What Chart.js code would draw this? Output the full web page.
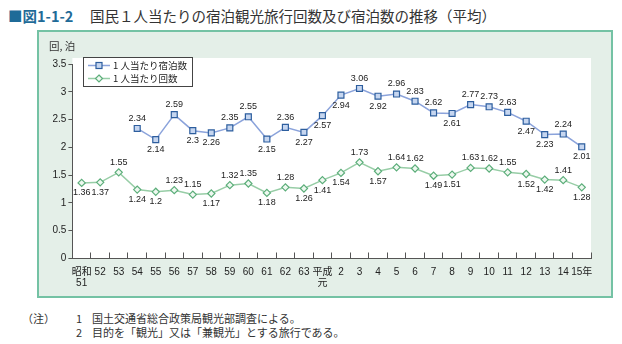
<!DOCTYPE html>
<html><head><meta charset="utf-8">
<script src="https://cdn.jsdelivr.net/npm/chart.js@4/dist/chart.umd.min.js"></script>
<style>
html,body{margin:0;padding:0;width:622px;height:344px;background:#fff;overflow:hidden;font-family:"Noto Sans CJK JP",sans-serif;color:#333;}
.abs{position:absolute;white-space:nowrap;}
#tnum{left:8px;top:5px;font-size:14.5px;line-height:22px;color:#1f6b98;font-weight:bold;}
#tmain{left:90px;top:5px;font-size:14.5px;line-height:22px;color:#333;}
#panel{position:absolute;left:37px;top:30px;width:572px;height:264px;background:#e4efe8;border:2px solid #74c2a4;}
#wrap{position:absolute;left:37px;top:30px;width:575px;height:267px;}
#ylab{left:49px;top:39px;font-size:10.5px;line-height:14px;color:#333;}
#legend{position:absolute;left:83px;top:57px;width:108px;height:27px;background:#fff;border:1px solid #444;font-size:9.5px;line-height:13px;color:#222;padding-top:1px;white-space:nowrap;}
#legend .row{display:flex;align-items:center;height:13px;}
#legend svg{margin-left:4px;margin-right:3px;flex:none;}
.note{font-size:11px;line-height:14px;color:#333;}
</style>
</head><body>
<div class="abs" id="tnum">■図1-1-2</div>
<div class="abs" id="tmain">国民１人当たりの宿泊観光旅行回数及び宿泊数の推移（平均）</div>
<div id="panel"></div>
<div id="wrap"><canvas id="c" width="575" height="267"></canvas></div>
<div class="abs" id="ylab">回, 泊</div>
<div id="legend">
  <div class="row"><svg width="22" height="9"><line x1="0" y1="4.5" x2="22" y2="4.5" stroke="#8ba3db" stroke-width="1.5"/><rect x="8" y="1.5" width="6" height="6" fill="#c6d6f0" stroke="#2d5e9e" stroke-width="1.2"/></svg><span>1 人当たり宿泊数</span></div>
  <div class="row"><svg width="22" height="9"><line x1="0" y1="4.5" x2="22" y2="4.5" stroke="#97cda6" stroke-width="1.5"/><polygon points="11,1 14.5,4.5 11,8 7.5,4.5" fill="#eef8f0" stroke="#5cae7a" stroke-width="1.2"/></svg><span>1 人当たり回数</span></div>
</div>
<div class="abs note" style="left:22px;top:311px;">（注）</div>
<div class="abs note" style="left:76px;top:311px;">1</div>
<div class="abs note" style="left:92px;top:311px;">国土交通省総合政策局観光部調査による。</div>
<div class="abs note" style="left:76px;top:325px;">2</div>
<div class="abs note" style="left:92px;top:325px;">目的を「観光」又は「兼観光」とする旅行である。</div>
<script>
// ---- data ----
const categories = [['昭和','51'],'52','53','54','55','56','57','58','59','60','61','62','63',['平成','元'],'2','3','4','5','6','7','8','9','10','11','12','13','14','15年'];
const stayNights = [null,null,null,2.34,2.14,2.59,2.3,2.26,2.35,2.55,2.15,2.36,2.27,2.57,2.94,3.06,2.92,2.96,2.83,2.62,2.61,2.77,2.73,2.63,2.47,2.23,2.24,2.01];
const tripCounts = [1.36,1.37,1.55,1.24,1.2,1.23,1.15,1.17,1.32,1.35,1.18,1.28,1.26,1.41,1.54,1.73,1.57,1.64,1.62,1.49,1.51,1.63,1.62,1.55,1.52,1.42,1.41,1.28];
const yTickLabels = ['0','0.5','1','1.5','2','2.5','3','3.5'];
const seriesNames = ['1 人当たり宿泊数','1 人当たり回数'];
// value-label placement: a = above, b = below
const stayLabelSide = ['','','','a','b','a','b','b','a','a','b','a','b','b','b','a','b','a','a','a','b','a','a','a','b','b','a','b'];
const tripLabelSide = ['b','b','a','b','b','a','a','b','a','a','b','a','b','b','b','a','b','a','a','b','b','a','a','a','b','b','a','b'];

const FONT = '"Liberation Sans", Arial, "Noto Sans CJK JP", sans-serif';
Chart.defaults.font.family = FONT;

const whiteArea = {
  id:'whiteArea',
  beforeDraw(chart){
    const {ctx, chartArea:a} = chart;
    ctx.save(); ctx.fillStyle = '#fff';
    ctx.fillRect(a.left, a.top - 6, a.right - a.left, a.bottom - a.top + 6);
    ctx.restore();
  }
};
const valueLabels = {
  id:'valueLabels',
  afterDatasetsDraw(chart){
    const ctx = chart.ctx;
    ctx.save();
    ctx.font = '9px ' + FONT;
    ctx.fillStyle = '#222';
    ctx.textAlign = 'center'; ctx.textBaseline = 'middle';
    chart.data.datasets.forEach((ds, di) => {
      const side = di === 0 ? stayLabelSide : tripLabelSide;
      chart.getDatasetMeta(di).data.forEach((pt, i) => {
        const v = ds.data[i];
        if (v == null) return;
        ctx.fillText(String(v), pt.x, pt.y + (side[i] === 'a' ? -10 : 10));
      });
    });
    ctx.restore();
  }
};

new Chart(document.getElementById('c'), {
  type:'line',
  data:{
    labels: categories,
    datasets:[
      {label:seriesNames[0], data:stayNights, borderColor:'#8ba3db', borderWidth:1.5, pointStyle:'rect', pointRadius:4.2,
       pointBackgroundColor:'#c6d6f0', pointBorderColor:'#2d5e9e', pointBorderWidth:1.2, tension:0, spanGaps:false},
      {label:seriesNames[1], data:tripCounts, borderColor:'#97cda6', borderWidth:1.5, pointStyle:'rectRot', pointRadius:3.6,
       pointBackgroundColor:'#eef8f0', pointBorderColor:'#5cae7a', pointBorderWidth:1.2, tension:0}
    ]
  },
  options:{
    responsive:false, animation:false, devicePixelRatio:1,
    layout:{padding:{left:0,right:21,top:34,bottom:0}},
    plugins:{legend:{display:false}, tooltip:{enabled:false}},
    scales:{
      x:{type:'category', offset:true,
         grid:{offset:true, drawOnChartArea:false, drawTicks:true, tickLength:-6, color:'#555', lineWidth:1},
         border:{display:true, color:'#555', width:1},
         ticks:{autoSkip:false, maxRotation:0, minRotation:0, padding:14, color:'#222', font:{size:10, lineHeight:1.1}},
         afterFit(s){ s.height = 38.5; }},
      y:{min:0, max:3.5,
         grid:{drawOnChartArea:false, drawTicks:true, tickLength:4, color:'#555'},
         border:{display:true, color:'#555', width:1},
         ticks:{stepSize:0.5, padding:2, color:'#222', font:{size:10}, callback:(v,i)=>yTickLabels[i]},
         afterFit(s){ s.width = 35.4; }}
    }
  },
  plugins:[whiteArea, valueLabels]
});
</script>
</body></html>
